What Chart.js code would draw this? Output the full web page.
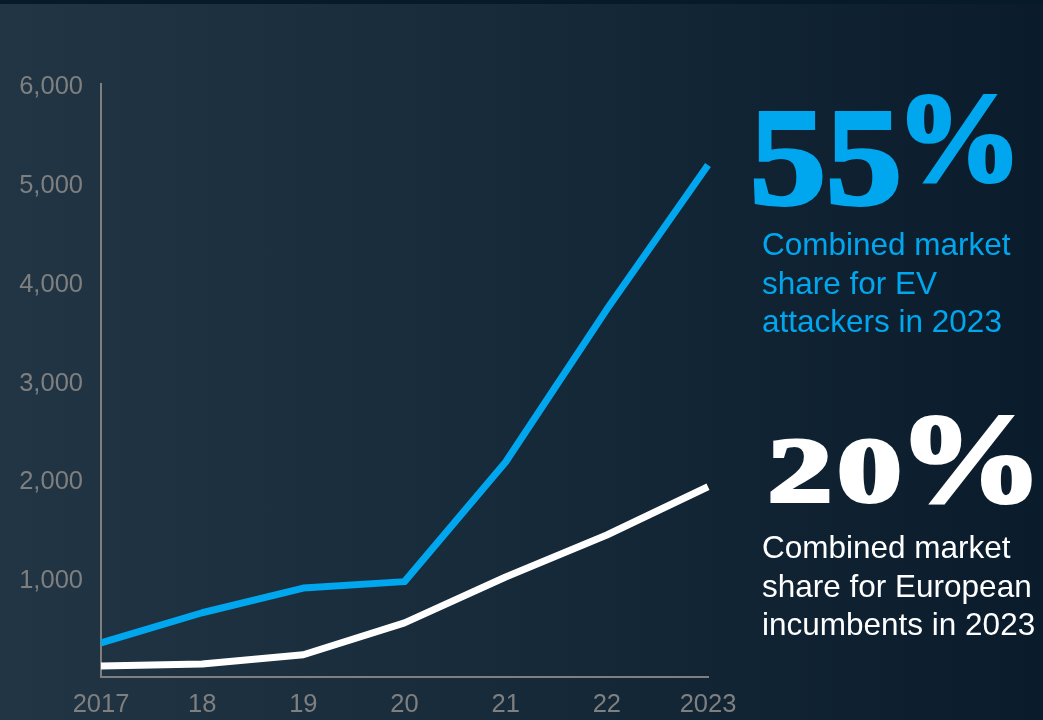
<!DOCTYPE html>
<html>
<head>
<meta charset="utf-8">
<script src="https://cdn.jsdelivr.net/npm/chart.js@4/dist/chart.umd.min.js"></script>
<style>
  html, body { margin: 0; padding: 0; }
  body {
    width: 1043px; height: 720px; overflow: hidden; position: relative;
    background: linear-gradient(90deg, #213545 0%, #182b3b 45%, #0a1c2c 100%);
  }
  .topband { position: absolute; left: 0; top: 0; width: 1043px; height: 4px; background: #061a2a; }
  #wrap { position: absolute; left: 0; top: 0; width: 1043px; height: 720px; }
  .big {
    position: absolute; font-family: "Liberation Serif", serif; font-weight: bold;
    font-size: 138px; line-height: 1; white-space: nowrap;
  }
  .big .pct { font-size: 126px; position: relative; }
  .big .digits55 {
    display: inline-block; transform: scaleX(1.1); transform-origin: left bottom; margin-right: 8px;
  }
  .big .wide {
    display: inline-block; font-size: 90px; letter-spacing: 4px;
    transform: scaleX(1.42); transform-origin: left bottom; margin-right: 32px;
  }
  .big .pct20 { display: inline-block; font-size: 126px; transform: scaleX(1.15); transform-origin: left bottom; }
  .note {
    position: absolute; font-family: "Liberation Sans", Arial, sans-serif;
    font-size: 31.5px; line-height: 38.5px; white-space: nowrap;
  }
  .blue { color: #00a6ee; }
  .white { color: #ffffff; }
  .big.blue { -webkit-text-stroke: 4px #00a6ee; }
  .big.white { -webkit-text-stroke: 4px #ffffff; }
</style>
</head>
<body>
<div class="topband"></div>
<div id="wrap"><canvas id="myChart" width="1043" height="720"></canvas></div>

<div class="big blue" style="left:750px; top:89px;"><span class="digits55">55</span><span class="pct" style="top:-24px;">%</span></div>
<div class="note blue" style="left:762px; top:225px;">Combined market<br>share for EV<br>attackers in 2023</div>

<div class="big white" style="left:768px; top:386px;"><span class="wide">20</span><span class="pct20">%</span></div>
<div class="note white" style="left:762px; top:528px;">Combined market<br>share for European<br>incumbents in 2023</div>

<script>
  const years = ["2017", "18", "19", "20", "21", "22", "2023"];
  const evAttackers = [345, 650, 900, 965, 2175, 3720, 5180];
  const euIncumbents = [112, 132, 225, 548, 1012, 1437, 1925];
  const yTicks = [0, 1000, 2000, 3000, 4000, 5000, 6000];

  const axisGrey = "#7f7f7f";

  const ctx = document.getElementById("myChart").getContext("2d");
  new Chart(ctx, {
    type: "line",
    data: {
      labels: years,
      datasets: [
        {
          label: "EV attackers",
          data: evAttackers,
          borderColor: "#00a6ee",
          borderWidth: 7,
          pointRadius: 0,
          tension: 0,
          borderJoinStyle: "round",
          fill: false
        },
        {
          label: "European incumbents",
          data: euIncumbents,
          borderColor: "#ffffff",
          borderWidth: 7,
          pointRadius: 0,
          tension: 0,
          borderJoinStyle: "round",
          fill: false
        }
      ]
    },
    options: {
      responsive: false,
      animation: false,
      layout: { padding: { top: 84, right: 335, bottom: 0, left: 0 } },
      plugins: { legend: { display: false }, tooltip: { enabled: false } },
      scales: {
        x: {
          offset: false,
          grid: { display: false },
          border: { display: true, color: axisGrey, width: 2 },
          ticks: {
            color: axisGrey,
            font: { family: "Liberation Sans", size: 25.5 },
            padding: 5,
            maxRotation: 0,
            autoSkip: false
          },
          afterFit: (scale) => { scale.height = 43; }
        },
        y: {
          min: yTicks[0],
          max: yTicks[yTicks.length - 1],
          afterBuildTicks: (scale) => { scale.ticks = yTicks.map(v => ({ value: v })); },
          grid: { display: false },
          border: { display: true, color: axisGrey, width: 2 },
          ticks: {
            color: axisGrey,
            font: { family: "Liberation Sans", size: 25.5 },
            padding: 10,
            labelOffset: 3,
            callback: (v) => v === 0 ? "" : v.toLocaleString("en-US")
          },
          afterFit: (scale) => { scale.width = 101; }
        }
      }
    }
  });
</script>
</body>
</html>
